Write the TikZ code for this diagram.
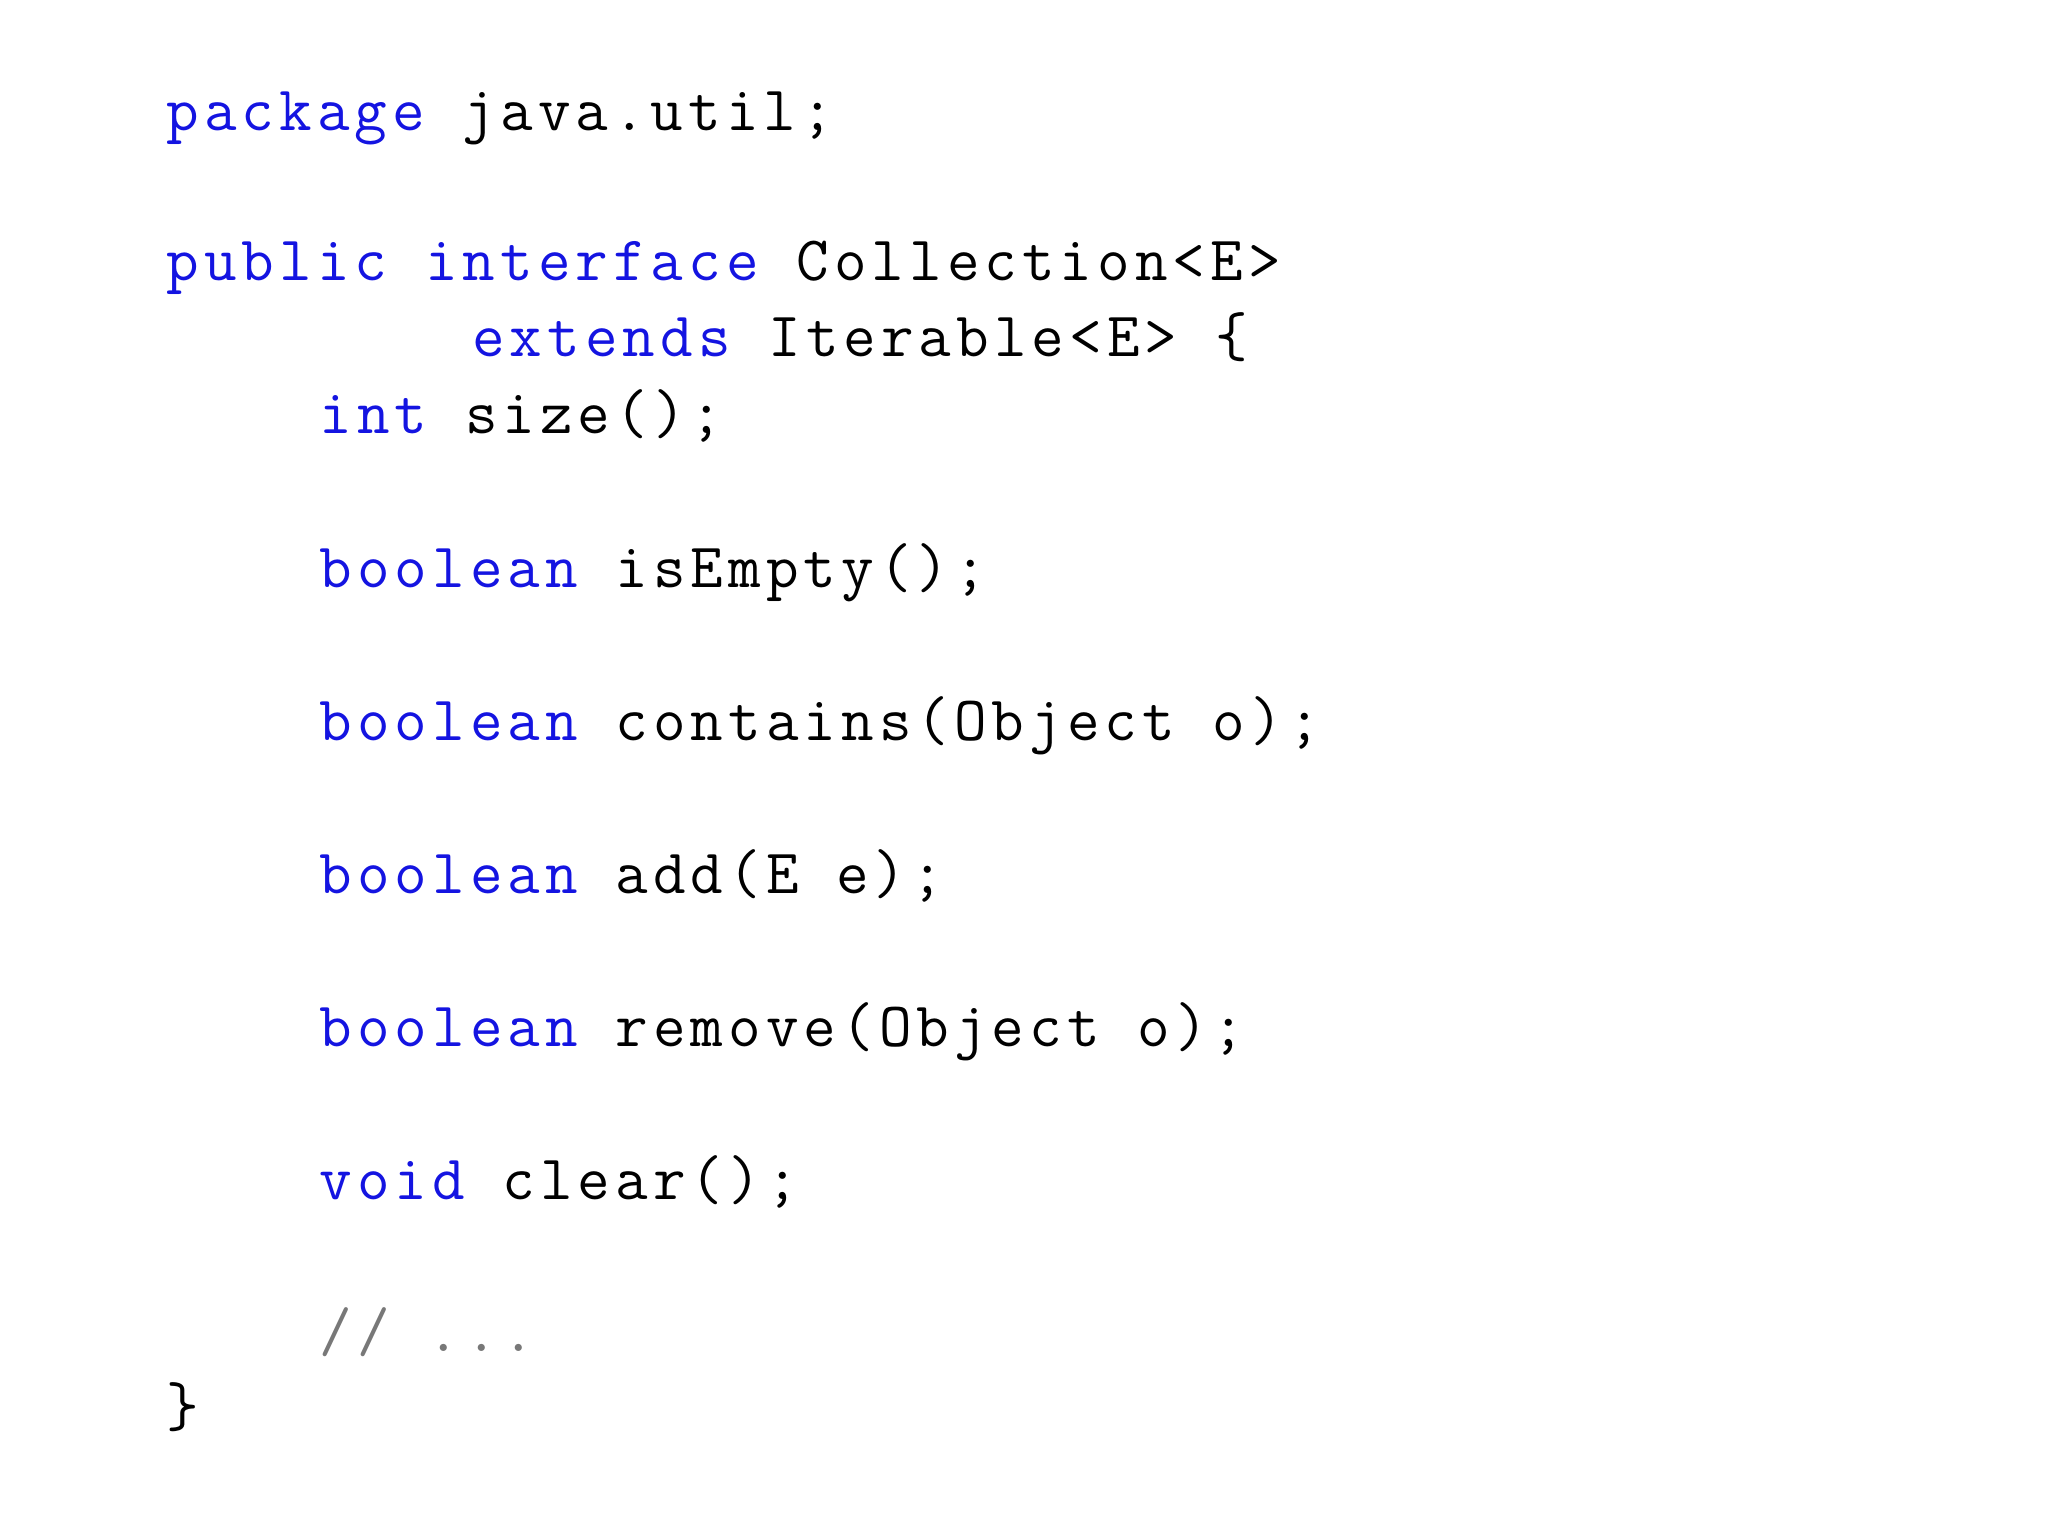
\documentclass[tikz,border=0pt]{standalone}
\usepackage{fontspec}
\newfontfamily\code[LetterSpace=8]{Latin Modern Mono}
\definecolor{kw}{RGB}{20,20,225}
\definecolor{cm}{RGB}{120,120,120}
\begin{document}
\begin{tikzpicture}[x=1cm,y=1cm,
  ln/.style={anchor=base west,inner sep=0pt,font=\code\fontsize{18}{20}\selectfont}]
\useasboundingbox (0,0) rectangle (20.48,15.36);
\def\Y#1{15.36-0.01306*#1}
\def\X#1{1.66+0.382*#1}
\node[ln] (l1) at ({\X0},{\Y{100}}) {\textcolor{kw}{package} java.util;};
\node[ln] (l2) at ({\X0},{\Y{215}}) {\textcolor{kw}{public interface} Collection<E>};
\node[ln] (l3) at ({\X8},{\Y{273}}) {\textcolor{kw}{extends} Iterable<E> \{};
\node[ln] (l4) at ({\X4},{\Y{332}}) {\textcolor{kw}{int} size();};
\node[ln] (l5) at ({\X4},{\Y{450}}) {\textcolor{kw}{boolean} isEmpty();};
\node[ln] (l6) at ({\X4},{\Y{567}}) {\textcolor{kw}{boolean} contains(Object o);};
\node[ln] (l7) at ({\X4},{\Y{684}}) {\textcolor{kw}{boolean} add(E e);};
\node[ln] (l8) at ({\X4},{\Y{801}}) {\textcolor{kw}{boolean} remove(Object o);};
\node[ln] (l9) at ({\X4},{\Y{918}}) {\textcolor{kw}{void} clear();};
\node[ln] (l10) at ({\X4},{\Y{1035}}) {\textcolor{cm}{// ...}};
\node[ln] (l11) at ({\X0},{\Y{1092}}) {\}};
\end{tikzpicture}
\end{document}
